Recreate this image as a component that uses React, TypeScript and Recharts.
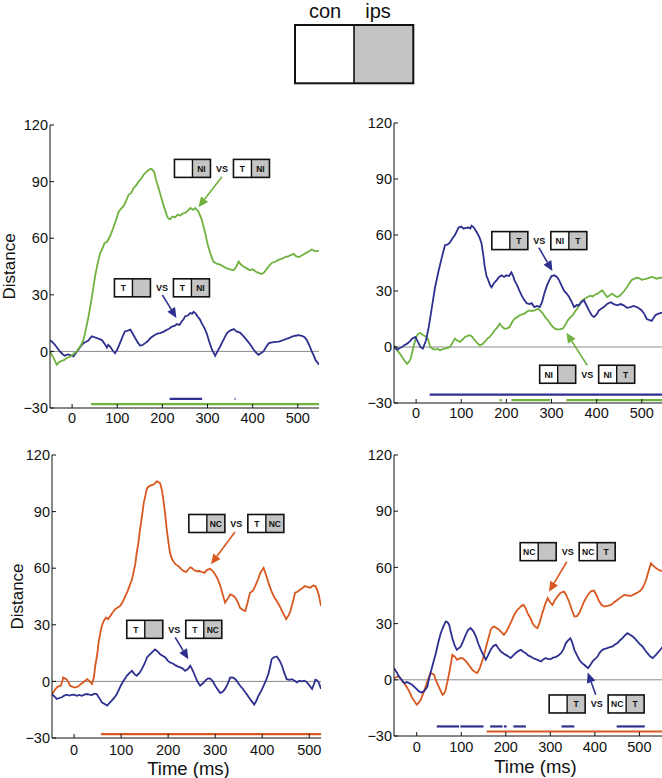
import React from 'react';
import { LineChart, Line, XAxis, YAxis, ReferenceLine, ReferenceDot } from 'recharts';

type Pt = [number, number];

const FONT = '"Liberation Sans", Arial, Helvetica, sans-serif';
const GREEN = '#6fb23f';
const BLUE = '#2e3090';
const ORANGE = '#d9581f';
const CELL_GREY = '#c4c4c4';

const timeTicks = [0, 100, 200, 300, 400, 500];
const distTicks = [-30, 0, 30, 60, 90, 120];

// top left: contra NI vs T/NI (green), T vs T/NI (blue)
const tlGreen: Pt[] = [
  [-49, 0], [-40, -4], [-34, -7], [-28, -5.5], [-23, -5], [-17, -4.5], [-12, -3.5], [-6, -3], [0, -2], [5, -1],
  [10, 0], [16, 2], [21, 4], [25, 6], [29, 10], [36, 18], [44, 29], [51, 40], [56, 46], [62, 52],
  [68, 55], [72, 57.5], [77, 58], [84, 61], [92, 66], [98, 70], [103, 74], [108, 75.5], [114, 77], [120, 80],
  [125, 83], [131, 84], [136, 86.5], [142, 88], [147, 90], [153, 91.5], [158, 93.5], [164, 95], [169, 96], [174, 96.8],
  [177, 96.5], [182, 95], [186, 91], [191, 87], [197, 82], [203, 77], [210, 72], [213, 70.5], [217, 70], [222, 71.5],
  [228, 71], [234, 72.5], [239, 72], [245, 73], [251, 73.5], [256, 74.5], [262, 76], [268, 75], [273, 76], [280, 74],
  [287, 70], [295, 62.5], [300, 57], [306, 52], [313, 47.6], [320, 46.5], [328, 46], [335, 45], [343, 44], [350, 43.5],
  [358, 43], [364, 45], [369, 47.6], [374, 46], [380, 45], [387, 44], [394, 43], [400, 43.5], [409, 42], [415, 41.5],
  [420, 41], [426, 42], [432, 44], [437, 45.5], [443, 47], [450, 47.5], [457, 48.5], [464, 49], [472, 50], [480, 50.5],
  [486, 51.2], [491, 51.7], [496, 50.5], [502, 50], [510, 51], [517, 52], [524, 53], [531, 54], [539, 53], [547, 53.3],
];
const tlBlue: Pt[] = [
  [-49, 6], [-44, 5], [-38, 3.5], [-32, 1.5], [-27, 0], [-21, -1.5], [-16, -2.3], [-10, -1.6], [-4, -2], [3, -2.6],
  [8, -1], [14, 1], [20, 3], [25, 4.4], [30, 5], [36, 5.8], [40, 7], [44, 8], [50, 7.5], [55, 7],
  [61, 6.5], [66, 6], [72, 4], [77, 2], [80, 3.5], [84, 2.6], [90, 0.5], [95, -1], [100, 1], [106, 4.4],
  [112, 8], [117, 10.6], [123, 11], [129, 11.5], [134, 9.5], [140, 7], [146, 4.5], [151, 3], [157, 3.5], [162, 4.4],
  [168, 5.5], [173, 7], [179, 8], [184, 8.8], [190, 9.5], [195, 9.7], [203, 10.5], [210, 11.5], [215, 12], [221, 13.2],
  [227, 13.5], [232, 14.5], [238, 14], [243, 16], [247, 17], [250, 18.5], [256, 19], [262, 20.3], [266, 20], [269, 21],
  [274, 20], [278, 18.5], [283, 17], [287, 15], [293, 12.5], [298, 9.7], [304, 5], [310, 0.9], [317, -2.3], [322, 0],
  [328, 2.6], [335, 6], [343, 9.7], [350, 11], [358, 11.8], [365, 10.5], [372, 10], [380, 8], [387, 6], [395, 3.5],
  [402, 1], [407, -0.5], [413, -1.8], [418, -1], [424, 0], [430, 2.5], [436, 4.4], [443, 4.8], [451, 5], [458, 5.2],
  [466, 5.8], [473, 6.5], [480, 7], [487, 7.8], [495, 8.3], [502, 8.6], [509, 8.3], [515, 7.5], [520, 6], [526, 3],
  [531, 0], [535, -2], [539, -4.4], [547, -7],
];

// top right
const trBlue: Pt[] = [
  [-49, 0], [-42, -1.4], [-36, -0.5], [-31, 0], [-26, 1], [-20, 1.8], [-14, 3], [-9, 4.5], [-1.5, 5.4], [4, 2.7],
  [9.5, 0], [15, -0.9], [22, 3.6], [28, 10.7], [35, 21.4], [42, 32], [50, 41], [57, 48], [64, 54.5], [70, 55],
  [75, 56], [80, 58], [86, 60], [90, 62], [94, 64], [100, 64.5], [105, 63.4], [110, 63.8], [116, 64], [120, 63.5],
  [123, 65], [128, 64], [134, 61.6], [140, 59], [145, 55.4], [149, 49], [152, 43], [156, 38], [160, 35.7], [164, 33],
  [167, 32], [172, 34], [178, 35.7], [184, 37.5], [189, 38.4], [195, 37.5], [200, 38.4], [206, 38], [211, 40], [215, 38],
  [218, 35.7], [224, 33], [229, 30], [234, 27.5], [240, 25], [245, 23.5], [251, 23], [256, 23.5], [262, 21.4], [268, 22],
  [274, 21.4], [279, 24], [284, 28.6], [290, 33], [295, 35.7], [300, 38], [306, 38.4], [312, 37.5], [317, 35.7], [322, 33],
  [328, 30], [334, 28.5], [339, 26.8], [345, 24], [350, 21.4], [356, 22.5], [361, 22.3], [366, 24], [372, 25], [377, 22.5],
  [383, 19.6], [389, 17], [394, 16], [400, 17.5], [405, 19.6], [410, 20.5], [416, 21.4], [423, 23], [431, 24], [438, 23],
  [446, 22.3], [453, 23], [460, 22.3], [467, 21], [475, 21.4], [482, 22], [489, 21.4], [495, 20.5], [500, 19.6], [506, 17.5],
  [511, 15], [516, 14.5], [522, 14], [526, 15.5], [530, 17], [537, 17.9], [547, 18.5],
];
const trGreen: Pt[] = [
  [-49, 1], [-42, -1.8], [-36, -3.5], [-31, -5.4], [-25, -7.5], [-20, -9], [-16, -8], [-12, -6.3], [-5, 0.9], [0, 5],
  [4, 7], [9, 7.5], [13, 6.8], [18, 6], [24, 5.4], [28, 3], [31, 0], [37, -1], [42, -1.4], [48, -1],
  [53, -1.8], [58, -1.2], [64, -0.9], [70, -0.5], [75, 0], [81, 2.5], [86, 4.5], [91, 3.5], [97, 2.7], [103, 4],
  [108, 5.4], [114, 6], [119, 6.3], [124, 5.5], [130, 3.6], [136, 2], [141, 0.9], [147, 1.5], [152, 2.7], [158, 4.5],
  [163, 5.4], [168, 7], [174, 8.9], [180, 10.5], [185, 12.5], [190, 11], [196, 9.8], [202, 10], [207, 10.7], [212, 13],
  [218, 15.2], [224, 16], [229, 17], [235, 17.5], [240, 17.9], [246, 19], [251, 19.6], [256, 19.3], [262, 19.6], [266, 20],
  [270, 20.5], [275, 19.5], [281, 17.9], [286, 16], [292, 14.3], [297, 12.5], [303, 10.7], [308, 9.8], [314, 9.3], [320, 9.6],
  [325, 9.8], [331, 12], [336, 14.3], [342, 16], [347, 17], [352, 19], [357, 20.5], [362, 23], [368, 25], [374, 26],
  [380, 26.8], [386, 27.5], [391, 27.1], [396, 28], [402, 28.6], [407, 29.5], [412, 30.4], [418, 28.5], [423, 26.8], [428, 27.5],
  [434, 28.6], [440, 27.5], [446, 26.8], [451, 27.5], [456, 28.6], [461, 30], [467, 32], [472, 34], [478, 36], [483, 36.5],
  [489, 37.1], [495, 36.8], [500, 36], [506, 36.3], [511, 36.6], [516, 37], [522, 37.5], [528, 37], [533, 36.6], [540, 37.2],
  [547, 37],
];

// bottom left
const blOrange: Pt[] = [
  [-47, -6.7], [-42, -5], [-37, -3.2], [-32, -2.5], [-28, -2.3], [-23, 2.1], [-19, 1.5], [-16, 1.2], [-12, -0.5], [-8.5, -2.3],
  [-4, -2.8], [0, -3.2], [5, -3], [9, -2.6], [14, -1.5], [20, -0.5], [24, 0.5], [28, 1.2], [33, 0], [38, -1.4],
  [42, 2], [45, 8.3], [49, 14], [52, 20.6], [56, 26], [59, 29.4], [63, 32], [68, 33.8], [72, 33], [77, 34.7],
  [82, 36.5], [87, 38.2], [92, 39], [98, 40], [104, 42.5], [109, 45.2], [114, 48], [119, 51.4], [123, 54], [126, 57.5],
  [130, 62], [133, 68], [137, 74], [140, 80.4], [144, 87], [148, 94.5], [152, 99], [155, 102.4], [160, 103.5], [165, 104],
  [170, 104.5], [176, 106], [180, 105.5], [183, 105], [187, 101], [190, 96], [194, 88], [197, 80.4], [201, 73], [204, 68],
  [208, 65], [211, 63.7], [216, 62], [222, 61], [228, 59.5], [233, 58.4], [238, 58], [243, 59.3], [247, 60.5], [250, 60.2],
  [255, 59], [261, 58.4], [266, 58.5], [272, 58], [277, 57.5], [282, 59], [289, 59.7], [295, 58.5], [300, 56.7], [306, 54],
  [311, 50.5], [316, 46], [321, 41.7], [327, 44], [332, 46.1], [338, 45.5], [343, 44.3], [348, 42], [353, 39], [358, 38],
  [364, 37.3], [369, 42], [374, 47], [380, 48], [385, 50.5], [391, 54], [396, 57.5], [403, 60.2], [406, 58], [410, 55],
  [415, 51], [421, 47], [426, 44.5], [431, 42.6], [437, 40], [442, 37.3], [447, 35], [451, 33], [456, 35], [460, 37.3],
  [465, 42], [470, 47], [475, 47.5], [481, 48.7], [486, 49.5], [491, 50.5], [497, 50], [502, 49.6], [508, 50.8], [513, 50.5],
  [517, 48.5], [520, 46.1], [525, 40],
];
const blBlue: Pt[] = [
  [-47, -6.7], [-42, -8], [-37, -9.3], [-31, -8.8], [-26, -8.4], [-21, -7.5], [-16, -7], [-10, -7.5], [-5, -7.2], [0, -7],
  [6, -7.6], [11, -7.2], [16, -7.6], [22, -7], [27, -6.7], [33, -7], [38, -7.2], [43, -6.5], [48, -6.7], [54, -9],
  [59, -11.1], [65, -12], [70, -12.8], [75, -11.5], [80, -10.2], [86, -8.5], [91, -6.7], [96, -4], [101, -1.4], [107, 1],
  [112, 3], [118, 4.5], [123, 5.6], [128, 4], [133, 3], [139, 4.5], [144, 6.5], [150, 9.5], [155, 12.7], [160, 14],
  [165, 15.3], [172, 17], [177, 16], [183, 14.4], [189, 13.5], [194, 12.7], [199, 11], [204, 10], [210, 9.5], [215, 8.6],
  [220, 8], [226, 7.4], [231, 6.8], [236, 5.6], [242, 6.5], [247, 8.3], [252, 6], [257, 3], [262, 0], [268, -2.3],
  [274, -1], [279, 0.4], [284, 1.5], [289, 1.6], [295, 0], [300, -2.3], [306, -4.5], [311, -6.2], [316, -5.5], [321, -4],
  [327, -1], [332, 2.1], [338, 2], [343, 1.2], [348, -0.5], [353, -2.3], [359, -4], [364, -5.8], [369, -7.5], [374, -9.3],
  [379, -11], [383, -12.3], [388, -10], [392, -7.6], [398, -5], [403, -2.3], [408, 0.5], [413, 3.9], [417, 8], [420, 11.8],
  [425, 12.8], [431, 13.2], [437, 11], [442, 8.3], [447, 4.5], [452, 1.2], [458, 0.8], [463, 1.2], [468, 0.5], [474, -0.5],
  [479, 0.3], [484, 0], [490, 0.4], [495, -0.5], [500, -2], [506, -4], [510, -1.5], [513, 0.9], [517, 0.5], [520, -0.5],
  [525, -4],
];

// bottom right
const brOrange: Pt[] = [
  [-51, 0.9], [-45, 1.5], [-40, 1.8], [-36, 0.5], [-32, -0.9], [-26, -2.5], [-21, -4.4], [-15, -7], [-10, -9.8], [-5, -11.5],
  [0, -13.3], [4, -12.5], [9, -10.7], [15, -7], [20, -3.6], [26, 0.5], [31, 3.6], [35, 3.2], [39, 2.7], [42, 0.5],
  [46, -1.8], [52, -5], [58, -8], [62, -7.2], [65, -5.3], [69, -1], [73, 3.6], [77, 9], [80, 13.3], [85, 12.5],
  [91, 10.7], [97, 11.5], [103, 11.6], [108, 10.5], [114, 8.9], [120, 7], [125, 5.3], [131, 4.2], [136, 3.6], [142, 6.5],
  [148, 10.7], [152, 14], [157, 18.7], [162, 23], [166, 26.7], [170, 28], [174, 28.4], [180, 27.5], [185, 26.7], [190, 25.5],
  [196, 24], [202, 26], [207, 28.4], [213, 31.5], [219, 34.7], [225, 37], [230, 38.2], [235, 39.5], [240, 40], [245, 38],
  [249, 35.6], [255, 33], [260, 30.2], [265, 28.5], [271, 27.6], [276, 30.5], [282, 35.6], [288, 40], [294, 43.6], [299, 41.5],
  [305, 40], [310, 42.5], [316, 44.4], [323, 46.5], [331, 47.1], [336, 45], [342, 41.8], [348, 37.5], [354, 33.8], [360, 34],
  [365, 35.6], [371, 39], [376, 41.8], [381, 44], [387, 46.2], [392, 47.3], [398, 47.6], [404, 45], [410, 41.8], [415, 40],
  [421, 39.1], [428, 39.5], [436, 40], [444, 41.5], [451, 42.7], [458, 44], [466, 45.3], [473, 45], [481, 44.8], [488, 45.6],
  [496, 46.6], [502, 47.5], [507, 48.9], [511, 51], [515, 53.3], [520, 57.5], [526, 62.2], [531, 61], [537, 59.6], [545, 58.5],
  [553, 57.8],
];
const brBlue: Pt[] = [
  [-51, 6.2], [-45, 4], [-40, 1.8], [-34, 0], [-28, -1.8], [-22, -1.2], [-17, -1.8], [-11, -2.5], [-6, -3.6], [0, -5],
  [5, -6.2], [11, -6.8], [16, -6.2], [20, -5], [24, -3.6], [27, 0], [31, 3.6], [37, 9], [43, 14.2], [48, 19.5],
  [54, 24.9], [60, 28.5], [65, 31.1], [69, 30.8], [73, 29.3], [76, 26], [80, 22.2], [85, 18.5], [90, 16], [94, 16.8],
  [99, 17.8], [104, 20.5], [110, 24], [115, 26.5], [121, 27.6], [127, 26], [133, 23.1], [138, 19.5], [144, 16], [150, 13],
  [155, 10.7], [160, 13], [166, 16], [172, 18], [178, 18.7], [183, 17], [189, 15.1], [195, 14], [200, 13.3], [206, 12.5],
  [211, 11.6], [217, 13], [222, 14.2], [228, 15.3], [234, 16], [239, 15], [245, 14.2], [250, 13], [256, 12.4], [262, 11.5],
  [267, 11], [273, 10.5], [279, 9.8], [284, 10.8], [290, 11.6], [295, 11], [301, 11], [306, 11.8], [312, 12.1], [318, 13],
  [324, 14.2], [330, 16.5], [335, 19.6], [340, 21], [345, 22.2], [349, 20], [354, 16], [360, 13], [365, 10.7], [370, 9.2],
  [376, 8], [381, 7], [385, 6.2], [390, 8], [395, 9.8], [400, 11], [406, 12.4], [411, 14.5], [417, 16], [422, 16.5],
  [428, 16.9], [434, 17.5], [440, 17.8], [445, 18.8], [451, 19.6], [456, 21], [462, 22.2], [468, 23.8], [473, 24.9], [479, 24],
  [485, 23.1], [490, 22], [496, 20.4], [501, 19], [507, 17.8], [512, 16], [518, 14.2], [524, 12.5], [530, 11.6], [537, 13.3],
  [545, 15.5], [553, 17.8],
];

// significant time windows (ms)
const tlSigBlue: Pt[] = [[216, 288], [360, 362]];
const tlSigGreen: Pt[] = [[42, 547]];
const trSigBlue: Pt[] = [[30, 547]];
const trSigGreen: Pt[] = [[185, 190], [211, 297], [333, 547]];
const blSigOrange: Pt[] = [[57, 525]];
const brSigBlue: Pt[] = [[45, 95], [98, 150], [165, 193], [196, 202], [217, 245], [325, 354], [449, 512]];
const brSigOrange: Pt[] = [[157, 553]];

type Note = { t: number; v: number; a: [string, string]; b: [string, string] };
type Arrow = { from: Pt; to: Pt; color: string };
type Sig = { ranges: Pt[]; v: number; color: string };

type PanelCfg = {
  left: number;
  top: number;
  plotH: number;
  xDomain: Pt;
  series: { data: Pt[]; color: string }[];
  sig: Sig[];
  notes: Note[];
  arrows: Arrow[];
  yLabelX?: number;
  xLabel?: { dx: number; dy: number };
  tickBase: number;
};

const PLOT_W = 269;

const panels: PanelCfg[] = [
  {
    left: 50, top: 125, plotH: 283, xDomain: [-49, 547], tickBase: 15, yLabelX: 9.7,
    series: [{ data: tlBlue, color: BLUE }, { data: tlGreen, color: GREEN }],
    sig: [{ ranges: tlSigBlue, v: -25.2, color: BLUE }, { ranges: tlSigGreen, v: -27.9, color: GREEN }],
    notes: [
      { t: 332, v: 97, a: ['', 'NI'], b: ['T', 'NI'] },
      { t: 199, v: 33.7, a: ['T', ''], b: ['T', 'NI'] },
    ],
    arrows: [
      { from: [332, 92.6], to: [280, 76.4], color: GREEN },
      { from: [200, 30], to: [231, 17.7], color: BLUE },
    ],
  },
  {
    left: 394.3, top: 122.7, plotH: 280, xDomain: [-49, 547], tickBase: 15,
    series: [{ data: trGreen, color: GREEN }, { data: trBlue, color: BLUE }],
    sig: [{ ranges: trSigBlue, v: -25.5, color: BLUE }, { ranges: trSigGreen, v: -28.5, color: GREEN }],
    notes: [
      { t: 273, v: 57, a: ['', 'T'], b: ['NI', 'T'] },
      { t: 379, v: -14.6, a: ['NI', ''], b: ['NI', 'T'] },
    ],
    arrows: [
      { from: [272, 53.2], to: [302, 40.7], color: BLUE },
      { from: [379, -9.8], to: [333, 7.7], color: GREEN },
    ],
  },
  {
    left: 51.7, top: 455, plotH: 283, xDomain: [-47, 525], tickBase: 17, yLabelX: 15.8,
    xLabel: { dx: 2, dy: 36.5 },
    series: [{ data: blBlue, color: BLUE }, { data: blOrange, color: ORANGE }],
    sig: [{ ranges: blSigOrange, v: -27.9, color: ORANGE }],
    notes: [
      { t: 345, v: 83.7, a: ['', 'NC'], b: ['T', 'NC'] },
      { t: 213, v: 27.6, a: ['T', ''], b: ['T', 'NC'] },
    ],
    arrows: [
      { from: [342, 79.2], to: [291, 62.1], color: ORANGE },
      { from: [215, 23.3], to: [243, 11.8], color: BLUE },
    ],
  },
  {
    left: 394.3, top: 455, plotH: 281, xDomain: [-51, 553], tickBase: 16,
    xLabel: { dx: 7, dy: 37 },
    series: [{ data: brOrange, color: ORANGE }, { data: brBlue, color: BLUE }],
    sig: [{ ranges: brSigBlue, v: -24.9, color: BLUE }, { ranges: brSigOrange, v: -27.6, color: ORANGE }],
    notes: [
      { t: 339, v: 68.4, a: ['NC', ''], b: ['NC', 'T'] },
      { t: 404, v: -12.9, a: ['', 'T'], b: ['NC', 'T'] },
    ],
    arrows: [
      { from: [337, 63], to: [297, 47], color: ORANGE },
      { from: [402, -8], to: [384, 3.9], color: BLUE },
    ],
  },
];

const fmtDist = (v: number) => (v < 0 ? `\u2212${Math.abs(v)}` : `${v}`);

function Icon({ x, y, labels }: { x: number; y: number; labels: [string, string] }) {
  return (
    <g fontFamily={FONT} fontWeight="bold" fontSize={8.5} fill="#111">
      <rect x={x} y={y} width={18} height={18} fill="#fff" />
      <rect x={x + 18} y={y} width={18} height={18} fill={CELL_GREY} />
      <rect x={x} y={y} width={36} height={18} fill="none" stroke="#111" strokeWidth={1.6} />
      <line x1={x + 18} x2={x + 18} y1={y} y2={y + 18} stroke="#111" strokeWidth={1.4} />
      <text x={x + 9} y={y + 12.3} textAnchor="middle" fill="#111">{labels[0]}</text>
      <text x={x + 27} y={y + 12.3} textAnchor="middle" fill="#111">{labels[1]}</text>
    </g>
  );
}

const noteShape = (n: Note) => (p: any) => {
  const cx = p.cx as number;
  const cy = p.cy as number;
  return (
    <g>
      <Icon x={cx - 47.5} y={cy - 9} labels={n.a} />
      <text x={cx} y={cy + 3.5} textAnchor="middle" fontFamily={FONT} fontWeight="bold" fontSize={9} fill="#111">
        VS
      </text>
      <Icon x={cx + 11.5} y={cy - 9} labels={n.b} />
    </g>
  );
};

const arrowShape = (color: string) => (p: any) => {
  const { x1, y1, x2, y2 } = p;
  const ang = Math.atan2(y2 - y1, x2 - x1);
  const len = 10;
  const half = 4.5;
  const bx = x2 - len * Math.cos(ang);
  const by = y2 - len * Math.sin(ang);
  const nx = -Math.sin(ang) * half;
  const ny = Math.cos(ang) * half;
  return (
    <g>
      <line x1={x1} y1={y1} x2={bx} y2={by} stroke={color} strokeWidth={1.6} />
      <polygon points={`${x2},${y2} ${bx + nx},${by + ny} ${bx - nx},${by - ny}`} fill={color} />
    </g>
  );
};

function Panel({ cfg }: { cfg: PanelCfg }) {
  const w = 50 + PLOT_W + 10;
  const h = 10 + cfg.plotH + 45;
  const axisFont = { fontFamily: FONT, fontSize: 14.5, fill: '#111' };

  const bottomTick = (p: any) => (
    <g>
      <line x1={p.x} x2={p.x} y1={p.y} y2={p.y - 4} stroke="#111" />
      <text x={p.x} y={p.y + cfg.tickBase} textAnchor="middle" {...axisFont}>
        {p.payload.value}
      </text>
    </g>
  );
  const topTick = (p: any) => <line x1={p.x} x2={p.x} y1={p.y} y2={p.y + 4} stroke="#111" />;
  const leftTick = (p: any) => (
    <g>
      <line x1={p.x} x2={p.x + 4} y1={p.y} y2={p.y} stroke="#111" />
      <text x={p.x - 2} y={p.y + 5.2} textAnchor="end" {...axisFont}>
        {fmtDist(p.payload.value)}
      </text>
    </g>
  );
  const rightTick = (p: any) => <line x1={p.x} x2={p.x - 4} y1={p.y} y2={p.y} stroke="#111" />;

  return (
    <div style={{ position: 'absolute', left: cfg.left - 50, top: cfg.top - 10 }}>
      <LineChart width={w} height={h} margin={{ top: 10, right: 10, bottom: 0, left: 0 }}>
        <XAxis
          dataKey="t"
          type="number"
          domain={cfg.xDomain}
          allowDataOverflow
          ticks={timeTicks}
          interval={0}
          tickSize={0}
          tickMargin={0}
          height={45}
          stroke="#111"
          tick={bottomTick}
          label={
            cfg.xLabel
              ? {
                  content: (lp: any) => {
                    const vb = lp.viewBox;
                    return (
                      <text
                        x={vb.x + vb.width / 2 + cfg.xLabel!.dx}
                        y={vb.y + cfg.xLabel!.dy}
                        textAnchor="middle"
                        fontFamily={FONT}
                        fontSize={18.5}
                        fill="#111"
                      >
                        Time (ms)
                      </text>
                    );
                  },
                }
              : undefined
          }
        />
        <XAxis
          xAxisId="top"
          orientation="top"
          type="number"
          domain={cfg.xDomain}
          allowDataOverflow
          ticks={timeTicks}
          interval={0}
          tickSize={0}
          tickMargin={0}
          height={0}
          stroke="#111"
          tick={topTick}
        />
        <YAxis
          type="number"
          domain={[-30, 120]}
          allowDataOverflow
          ticks={distTicks}
          interval={0}
          tickSize={0}
          tickMargin={0}
          width={50}
          stroke="#111"
          tick={leftTick}
          label={
            cfg.yLabelX !== undefined
              ? {
                  content: (lp: any) => {
                    const vb = lp.viewBox;
                    const x = cfg.yLabelX as number;
                    const y = vb.y + vb.height / 2;
                    return (
                      <text
                        x={x}
                        y={y}
                        transform={`rotate(-90 ${x} ${y})`}
                        textAnchor="middle"
                        dominantBaseline="central"
                        fontFamily={FONT}
                        fontSize={17}
                        fill="#111"
                      >
                        Distance
                      </text>
                    );
                  },
                }
              : undefined
          }
        />
        <YAxis
          yAxisId="right"
          orientation="right"
          type="number"
          domain={[-30, 120]}
          allowDataOverflow
          ticks={distTicks}
          interval={0}
          tickSize={0}
          tickMargin={0}
          width={0}
          stroke="#111"
          tick={rightTick}
        />
        <ReferenceLine y={0} stroke="#8a8a8a" strokeWidth={1} />
        {cfg.sig.map((s, i) =>
          s.ranges.map(([a, b], j) => (
            <ReferenceLine
              key={`sig-${i}-${j}`}
              segment={[{ x: a, y: s.v }, { x: b, y: s.v }]}
              stroke={s.color}
              strokeWidth={2.2}
              ifOverflow="hidden"
            />
          )),
        )}
        {cfg.series.map((s, i) => (
          <Line
            key={`s-${i}`}
            data={s.data.map(([t, v]) => ({ t, v }))}
            dataKey="v"
            type="linear"
            stroke={s.color}
            strokeWidth={1.8}
            dot={false}
            activeDot={false}
            isAnimationActive={false}
          />
        ))}
        {cfg.arrows.map((a, i) => (
          <ReferenceLine
            key={`ar-${i}`}
            segment={[{ x: a.from[0], y: a.from[1] }, { x: a.to[0], y: a.to[1] }]}
            stroke={a.color}
            shape={arrowShape(a.color)}
          />
        ))}
        {cfg.notes.map((n, i) => (
          <ReferenceDot key={`n-${i}`} x={n.t} y={n.v} r={0} shape={noteShape(n)} />
        ))}
      </LineChart>
    </div>
  );
}

function Key() {
  return (
    <svg width={662} height={90} style={{ position: 'absolute', left: 0, top: 0 }}>
      <text x={325} y={18.3} textAnchor="middle" fontFamily={FONT} fontSize={20} fill="#111">
        con
      </text>
      <text x={378} y={18.3} textAnchor="middle" fontFamily={FONT} fontSize={20} fill="#111">
        ips
      </text>
      <rect x={295} y={25} width={59} height={58.3} fill="#fff" />
      <rect x={354} y={25} width={59.3} height={58.3} fill={CELL_GREY} />
      <rect x={295} y={25} width={118.3} height={58.3} fill="none" stroke="#111" strokeWidth={2} />
      <line x1={354} x2={354} y1={25} y2={83.3} stroke="#111" strokeWidth={1.6} />
    </svg>
  );
}

export default function App() {
  return (
    <div
      style={{
        position: 'absolute',
        left: 0,
        top: 0,
        width: 662,
        height: 778,
        overflow: 'hidden',
        background: '#fff',
        fontFamily: FONT,
      }}
    >
      <Key />
      {panels.map((p, i) => (
        <Panel key={i} cfg={p} />
      ))}
    </div>
  );
}
